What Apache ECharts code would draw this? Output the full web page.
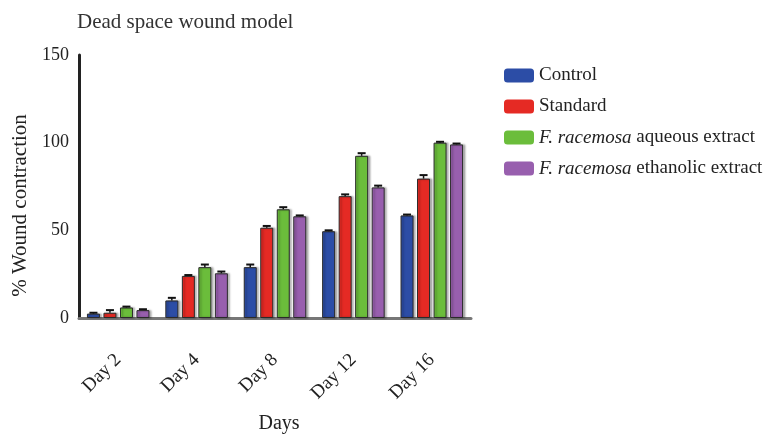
<!DOCTYPE html>
<html>
<head>
<meta charset="utf-8">
<script src="https://cdn.jsdelivr.net/npm/echarts@6/dist/echarts.min.js"></script>
<style>html,body{margin:0;padding:0;background:#fff}#c{width:770px;height:444px}</style>
</head>
<body>
<div id="c"></div>
<script>
var categories = ['Day 2', 'Day 4', 'Day 8', 'Day 12', 'Day 16'];
var seriesNames = ['Control', 'Standard', 'F. racemosa aqueous extract', 'F. racemosa ethanolic extract'];
var control = [2.5, 10, 29, 49.5, 58.5];
var standard = [3, 24, 51.5, 69.5, 79.5];
var aqueous = [6, 29, 62, 92.5, 100];
var ethanolic = [4.5, 25.5, 58, 74.5, 99];
var controlErr = [0.5, 1.5, 1.5, 0.5, 0.5];
var standardErr = [1.5, 0.5, 1, 1, 2];
var aqueousErr = [0.5, 1.5, 1.2, 1.5, 0.5];
var ethanolicErr = [0.5, 1, 0.5, 1, 0.5];
var yTicks = [0, 50, 100, 150];

var colors = ['#2c4da6', '#e52a24', '#6bbd3b', '#985fae'];
var values = [control, standard, aqueous, ethanolic];
var errs = [controlErr, standardErr, aqueousErr, ethanolicErr];
var BAR_W = 13, STEP = 16.5;
var font = '"Liberation Serif", "DejaVu Serif", serif';

var series = [];
values.forEach(function (v, i) {
  series.push({
    name: seriesNames[i], type: 'bar', data: v, barWidth: BAR_W, barGap: '27%',
    itemStyle: { color: colors[i], borderColor: '#2a2a2a', borderWidth: 1,
      shadowColor: 'rgba(0,0,0,0.3)', shadowBlur: 2, shadowOffsetX: 2 },
    z: 2
  });
});
values.forEach(function (v, i) {
  series.push({
    type: 'custom', silent: true, z: 5,
    data: v.map(function (val, k) { return [k, val, errs[i][k]]; }),
    encode: { x: 0, y: 1 },
    renderItem: function (params, api) {
      var c = api.coord([api.value(0), api.value(1)]);
      var hi = api.coord([api.value(0), api.value(1) + api.value(2)]);
      var x = c[0] + (i - 1.5) * STEP;
      var half = 4;
      return { type: 'group', children: [
        { type: 'line', shape: { x1: x, y1: c[1], x2: x, y2: hi[1] }, style: { stroke: '#111', lineWidth: 1.5 } },
        { type: 'line', shape: { x1: x - half, y1: hi[1], x2: x + half, y2: hi[1] }, style: { stroke: '#111', lineWidth: 2 } }
      ]};
    }
  });
});

var chart = echarts.init(document.getElementById('c'));
chart.setOption({
  animation: false,
  textStyle: { fontFamily: font },
  title: { text: 'Dead space wound model', left: 72, top: 7,
    textStyle: { fontFamily: font, fontSize: 21, fontWeight: 'normal', color: '#333' } },
  legend: {
    orient: 'vertical', left: 499, top: 61, itemWidth: 30, itemHeight: 14, itemGap: 12,
    data: seriesNames,
    itemStyle: { borderWidth: 0, shadowBlur: 0, shadowOffsetX: 0 },
    textStyle: { fontFamily: font, fontSize: 19, color: '#222',
      rich: { it: { fontStyle: 'italic', fontFamily: font, fontSize: 19, color: '#222' },
              n: { fontFamily: font, fontSize: 19, color: '#222' } } },
    formatter: function (name) {
      if (name.indexOf('F. racemosa') === 0) {
        return '{it|F. racemosa}{n|' + name.slice(11) + '}';
      }
      return name;
    }
  },
  grid: { left: 79, right: 299, top: 55, bottom: 126 },
  xAxis: {
    type: 'category', data: categories,
    name: 'Days', nameLocation: 'middle', nameGap: 96,
    nameTextStyle: { fontFamily: font, fontSize: 20, color: '#222', padding: [0, 0, 0, 8] },
    axisLine: { lineStyle: { color: '#777', width: 3 } },
    axisTick: { alignWithLabel: true, length: 9, lineStyle: { color: '#222', width: 2 } },
    axisLabel: { rotate: 45, margin: 39, fontFamily: font, fontSize: 19, color: '#222' }
  },
  yAxis: {
    type: 'value', min: 0, max: 150, interval: 50,
    name: '% Wound contraction', nameLocation: 'middle', nameGap: 48,
    nameTextStyle: { fontFamily: font, fontSize: 21, color: '#222', padding: [0, 38, 0, 0] },
    axisLine: { show: true, lineStyle: { color: '#222', width: 3 } },
    axisTick: { show: false },
    splitLine: { show: false },
    axisLabel: { margin: 10, fontFamily: font, fontSize: 18, color: '#222',
      formatter: function (v) { return yTicks.indexOf(v) >= 0 ? String(v) : ''; } }
  },
  series: series
});
</script>
</body>
</html>
